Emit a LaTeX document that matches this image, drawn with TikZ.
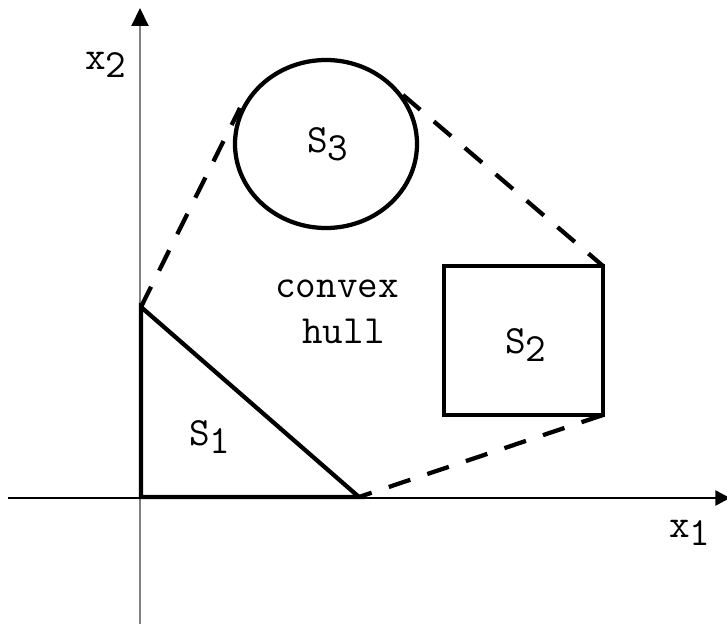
\documentclass[tikz,border=0pt]{standalone}
\usepackage{fontspec}
\definecolor{axisgray}{RGB}{128, 128, 128}
\usepackage{tikz}
\usetikzlibrary{arrows.meta, positioning, calc}
\newcommand{\lowsub}[1]{\raisebox{-6pt}{#1}}

\begin{document}
\begin{tikzpicture}[x=0.75pt, y=-0.75pt,
    setline/.style={line width=3.2pt, line join=miter},
    hullline/.style={line width=3.2pt, dash pattern=on 17pt off 13.5pt},
    lbl/.style={inner sep=0pt, anchor=base west, font=\ttfamily\fontsize{30}{36}\selectfont}]
  \useasboundingbox (0,0) rectangle (727,624);
  \coordinate (t1) at (141,307);
  \coordinate (t2) at (141,497);
  \coordinate (t3) at (359,497);
  \coordinate (q1) at (444,266);
  \coordinate (q2) at (603,266);
  \coordinate (q3) at (603,415);
  \coordinate (q4) at (444,415);
  \coordinate (c3) at (326,144);
  \coordinate (l3) at (240,108);
  \coordinate (r3) at (403,95);
  \coordinate (xend) at (730,498);
  \coordinate (xbeg) at (8,498);
  \coordinate (yend) at (140,8);
  \coordinate (ybeg) at (140,624);
  \draw[line width=1pt, -{Triangle[length=11pt, width=11.5pt]}] (xbeg) -- (xend);
  \draw[axisgray, line width=1.5pt, -{Triangle[length=13.5pt, width=12.75pt, color=black]}] (ybeg) -- (yend);
  \draw[setline] (t1) -- (t2) -- (t3) -- cycle;
  \draw[setline] (q1) -- (q2) -- (q3) -- (q4) -- cycle;
  \draw[setline] (c3) ellipse [x radius=91, y radius=84];
  \draw[hullline] (t1) -- (l3);
  \draw[hullline] (r3) -- (q2);
  \draw[hullline] (q3) -- (t3);
  \node[lbl] (s1) at (189,445) {S\lowsub{1}};
  \node[lbl] (s2) at (505,353) {S\lowsub{2}};
  \node[lbl] (s3) at (307,152) {S\lowsub{3}};
  \node[lbl] (x1) at (669,537) {x\lowsub{1}};
  \node[lbl] (x2) at (85,70) {x\lowsub{2}};
  \node[lbl] (hull1) at (275,297) {convex};
  \node[lbl] (hull2) at (302,343) {hull};
\end{tikzpicture}
\end{document}
